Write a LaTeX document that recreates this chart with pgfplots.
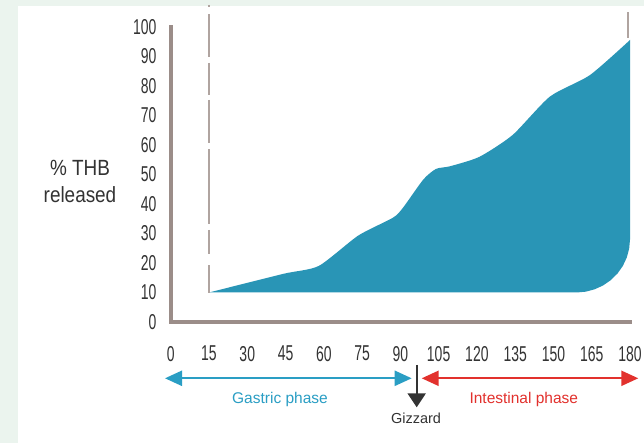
\documentclass[border=0pt]{standalone}
\usepackage{pgfplots}
\pgfplotsset{compat=1.18}
\usepgfplotslibrary{fillbetween}
\usetikzlibrary{arrows.meta}
\usepackage{fontspec}
\setmainfont{Liberation Sans}
\newfontfamily\condfont{Liberation Sans}[FakeStretch=0.65]
\newfontfamily\labfont{Liberation Sans}[FakeStretch=0.86]
\definecolor{bgc}{HTML}{EBF4EE}
\definecolor{fillc}{HTML}{2995B6}
\definecolor{axc}{HTML}{9B8D89}
\definecolor{dashc}{HTML}{B0A4A0}
\definecolor{txtc}{HTML}{333333}
\definecolor{blueA}{HTML}{2A9EC4}
\definecolor{redA}{HTML}{E2312D}
\definecolor{gizc}{HTML}{333333}
\begin{document}
\begin{tikzpicture}
\begin{axis}[
  set layers,
  at={(0pt,0pt)}, anchor=south west,
  scale only axis, width=459.3pt, height=295pt,
  xmin=0, xmax=180, ymin=0, ymax=100,
  axis lines=left,
  axis line style={-, line width=4pt, draw=axc, line cap=rect},
  xtick={0,15,...,180}, ytick={0,10,...,100},
  major tick length=0pt, tick style={draw=none},
  clip=false,
  /pgf/number format/assume math mode=true,
  ticklabel style={font=\condfont\fontsize{21.5}{24}\selectfont, text=txtc},
  xticklabel style={inner sep=0pt, anchor=north, yshift=-24pt},
  yticklabel style={inner sep=0pt, anchor=east, xshift=-14pt},
]
\begin{pgfonlayer}{axis background}
\fill[bgc] (-66.9,-41.0) rectangle (185.5,109.15);
\fill[white] (-59.8,-41.0) rectangle (185.5,107.1);
\end{pgfonlayer}
% dashed vertical line at 15
\draw[dashc, line width=2pt] (15,107.5) -- (15,106.8);
\draw[dashc, line width=2pt] (15,104.4) -- (15,89.8);
\draw[dashc, line width=2pt] (15,87.8) -- (15,76.9);
\draw[dashc, line width=2pt] (15,75.3) -- (15,60.7);
\draw[dashc, line width=2pt] (15,58.6) -- (15,33.2);
\draw[dashc, line width=2pt] (15,31.2) -- (15,23.1);
\draw[dashc, line width=2pt] (15,19.3) -- (15,9.8);
% right thin line
\draw[dashc, line width=2pt] (179.3,105) -- (179.3,96.2);
\addplot[draw=none, name path=top, smooth, tension=0.4] coordinates {
 (15,10) (44,16.3) (58,19) (73.5,29.3) (87,35.3) (91,38.7) (99,48.3)
 (104,51.9) (109.5,52.8) (121,56) (134,63.4) (148.6,76.4) (164.3,83.7) (180,95.6)};
\addplot[draw=none, name path=bot] coordinates {
 (15,10) (100,10) (159,10) (162.65,10.27) (166.18,11.09) (169.5,12.41)
 (172.5,14.21) (175.09,16.43) (177.19,19.0) (178.73,21.84) (179.68,24.88) (180,28)};
\addplot[fillc, draw=none] fill between[of=top and bot];
\end{axis}
% y label
\node[align=center, font=\labfont\fontsize{22}{27}\selectfont, text=txtc] at (-90.7pt,141pt) {\% THB\\released};
% phase arrows
\draw[blueA, line width=2.2pt, {Triangle[length=17pt,width=15pt]}-{Triangle[length=17pt,width=15pt]}] (-5.7pt,-56.3pt) -- (241pt,-56.3pt);
\draw[redA, line width=2.2pt, {Triangle[length=17pt,width=15pt]}-{Triangle[length=17pt,width=15pt]}] (251pt,-56.3pt) -- (467.6pt,-56.3pt);
\draw[gizc, line width=2pt, -{Triangle[length=14pt,width=18pt]}] (246pt,-43pt) -- (246pt,-85.3pt);
\node[text=blueA, font=\fontsize{15.5}{18}\selectfont] at (109.3pt,-77pt) {Gastric phase};
\node[text=redA, font=\fontsize{15.5}{18}\selectfont] at (353.1pt,-77pt) {Intestinal phase};
\node[text=gizc, font=\fontsize{14.5}{17}\selectfont] at (245.3pt,-96.3pt) {Gizzard};
\pgfresetboundingbox
\useasboundingbox (-170.7pt,-121pt) rectangle (473.3pt,322pt);
\end{tikzpicture}
\end{document}
